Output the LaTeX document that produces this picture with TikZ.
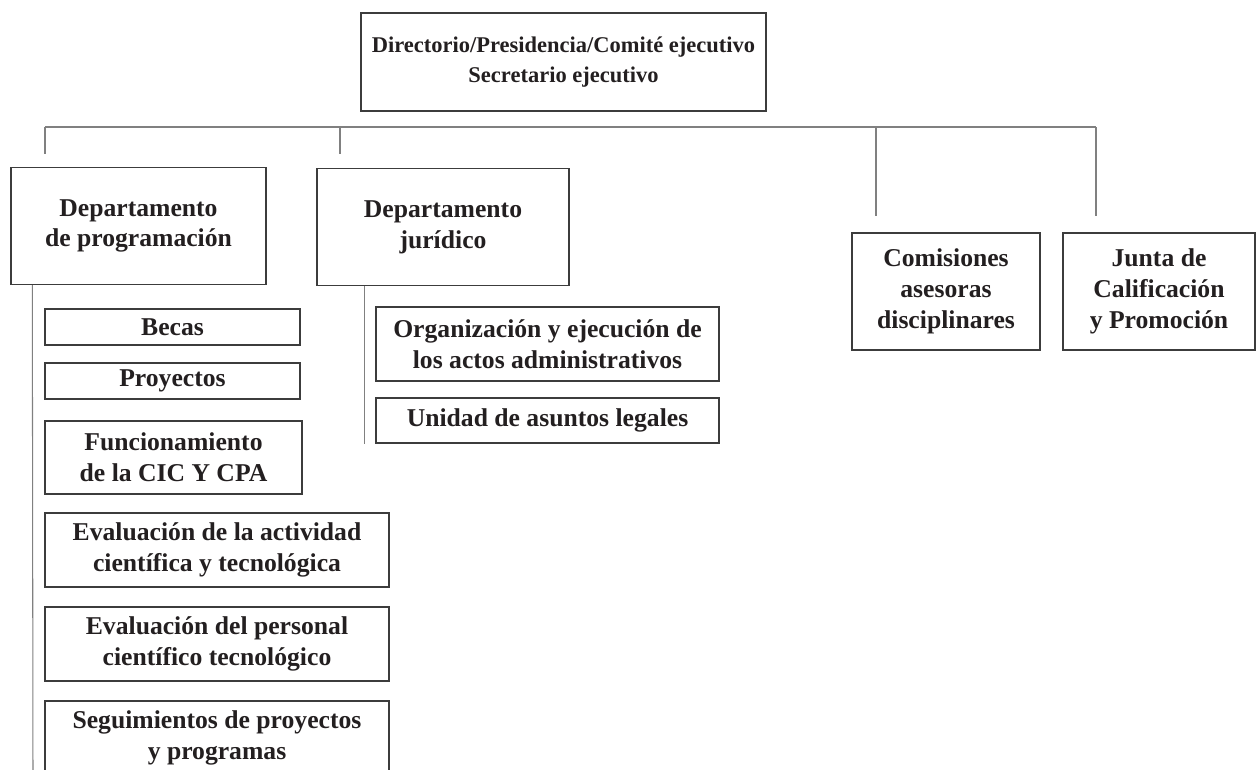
\documentclass[tikz,border=0pt]{standalone}
\usepackage{fontspec}
\setmainfont{Liberation Serif}
\definecolor{inkcol}{RGB}{35,31,32}
\definecolor{boxcol}{RGB}{60,60,60}
\definecolor{linecol}{RGB}{128,128,128}
\tikzset{
  orgbox/.style={draw=boxcol, line width=0.8pt, inner sep=0pt, align=center,
    text=inkcol, font=\bfseries\fontsize{14.6}{17.5}\selectfont},
  busline/.style={draw=linecol, line width=0.6pt},
}
\begin{document}
\begin{tikzpicture}[x=0.02cm,y=-0.02cm]
\useasboundingbox (0,0) rectangle (1256,769);
% top of the chart
\node[orgbox, minimum width=8.1cm, minimum height=1.96cm,
  font=\bfseries\fontsize{12.8}{17.5}\selectfont] (dir) at (563.5,62)
  {Directorio/Presidencia/Comité ejecutivo\\Secretario ejecutivo};
% departments
\node[orgbox, minimum width=5.1cm, minimum height=2.34cm] (prog) at (138.5,226)
  {Departamento\\de programación};
\node[orgbox, minimum width=5.04cm, minimum height=2.34cm] (jur) at (443,227)
  {Departamento\\jurídico};
\node[orgbox, minimum width=3.76cm, minimum height=2.34cm] (comis) at (946,291.5)
  {Comisiones\\asesoras\\disciplinares};
\node[orgbox, minimum width=3.84cm, minimum height=2.34cm] (junta) at (1159,291.5)
  {Junta de\\Calificación\\y Promoción};
% units of the programming department
\node[orgbox, minimum width=5.1cm, minimum height=0.72cm] (becas) at (172.5,327) {Becas};
\node[orgbox, minimum width=5.1cm, minimum height=0.72cm] (proy) at (172.5,381) {Proyectos};
\node[orgbox, minimum width=5.14cm, minimum height=1.46cm] (func) at (173.5,457.5)
  {Funcionamiento\\de la CIC Y CPA};
\node[orgbox, minimum width=6.88cm, minimum height=1.48cm] (evact) at (217,550)
  {Evaluación de la actividad\\científica y tecnológica};
\node[orgbox, minimum width=6.88cm, minimum height=1.48cm] (evper) at (217,644)
  {Evaluación del personal\\científico tecnológico};
\node[orgbox, minimum width=6.88cm, minimum height=1.48cm] (segui) at (217,738)
  {Seguimientos de proyectos\\y programas};
% units of the legal department
\node[orgbox, minimum width=6.86cm, minimum height=1.48cm] (org) at (547.5,344)
  {Organización y ejecución de\\los actos administrativos};
\node[orgbox, minimum width=6.86cm, minimum height=0.9cm] (unid) at (547.5,420.5)
  {Unidad de asuntos legales};
% bus with drops
\coordinate (busW) at (45,127);
\coordinate (busE) at (1096,127);
\draw[busline] (busW) -- (busE);
\foreach \name/\x/\y in {progdrop/45/154, jurdrop/340/154, comdrop/876/216, juntadrop/1096/216} {
  \coordinate (\name) at (\x,\y);
  \draw[busline] (\name |- busW) -- (\name);
}
% stems under the departments
\coordinate (progstem) at ([xshift=0.44cm]prog.south west);
\coordinate (progend) at (33,780);
\draw[busline] (progstem) -- (progend);
\coordinate (jurstem) at ([xshift=0.96cm]jur.south west);
\draw[busline] (jurstem) -- (jurstem |- unid.south);
\end{tikzpicture}
\end{document}
